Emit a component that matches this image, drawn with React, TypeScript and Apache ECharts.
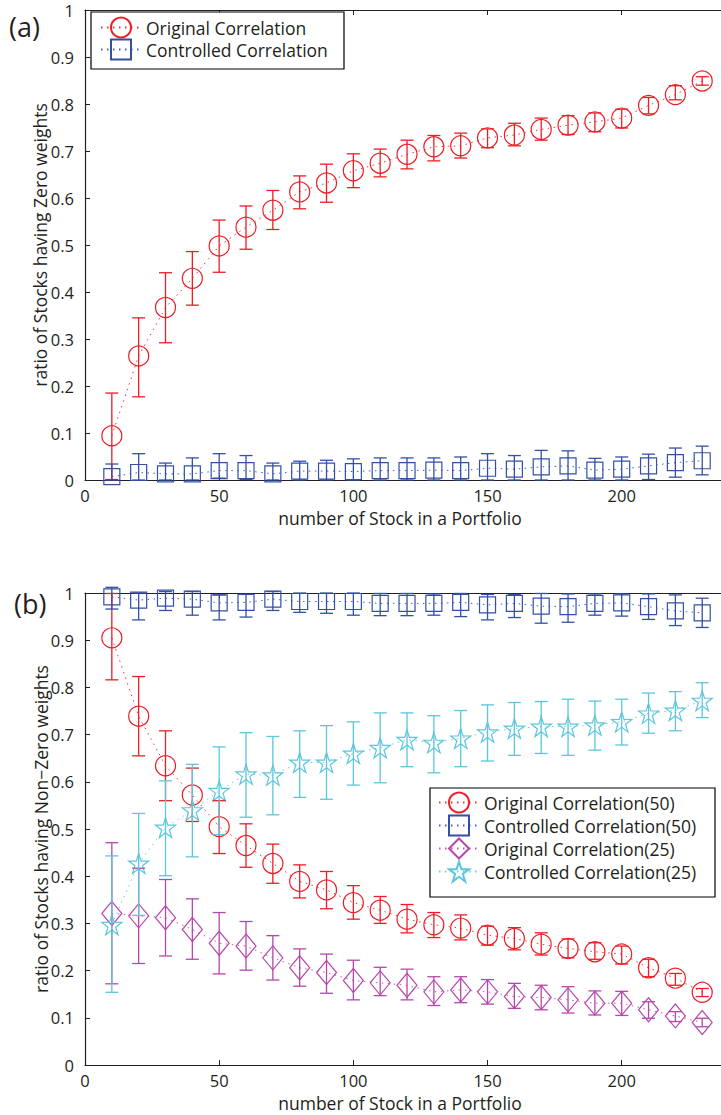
import React, { useEffect, useRef } from "react";
import * as echarts from "echarts";

// ---- data ----
const xs = [10, 20, 30, 40, 50, 60, 70, 80, 90, 100, 110, 120, 130, 140, 150, 160, 170, 180, 190, 200, 210, 220, 230];
const xTicks = [0, 50, 100, 150, 200];

// panel (a)
const aOrigMean = [0.094, 0.264, 0.367, 0.429, 0.498, 0.538, 0.574, 0.613, 0.632, 0.658, 0.674, 0.693, 0.709, 0.711, 0.728, 0.734, 0.746, 0.755, 0.762, 0.77, 0.797, 0.82, 0.849];
const aOrigLow = [0.001, 0.177, 0.292, 0.372, 0.442, 0.491, 0.533, 0.577, 0.591, 0.622, 0.645, 0.662, 0.679, 0.685, 0.707, 0.711, 0.723, 0.735, 0.741, 0.749, 0.779, 0.809, 0.84];
const aOrigHigh = [0.185, 0.345, 0.441, 0.486, 0.553, 0.583, 0.616, 0.647, 0.672, 0.694, 0.704, 0.723, 0.733, 0.738, 0.747, 0.759, 0.77, 0.775, 0.781, 0.789, 0.814, 0.839, 0.858];

const aCtrlMean = [0.007, 0.016, 0.013, 0.013, 0.02, 0.02, 0.013, 0.019, 0.019, 0.018, 0.02, 0.02, 0.021, 0.02, 0.025, 0.023, 0.028, 0.03, 0.021, 0.023, 0.03, 0.037, 0.041];
const aCtrlLow = [0, 0, 0, 0, 0.004, 0.001, 0, 0, 0, 0, 0, 0, 0, 0, 0, 0, 0, 0, 0, 0, 0.001, 0.006, 0.011];
const aCtrlHigh = [0.034, 0.056, 0.036, 0.047, 0.056, 0.052, 0.036, 0.04, 0.042, 0.045, 0.047, 0.047, 0.047, 0.049, 0.056, 0.052, 0.063, 0.062, 0.046, 0.049, 0.055, 0.068, 0.072];

// panel (b)
const bOrig50Mean = [0.905, 0.739, 0.634, 0.572, 0.505, 0.465, 0.427, 0.389, 0.371, 0.344, 0.328, 0.309, 0.297, 0.29, 0.275, 0.268, 0.256, 0.247, 0.24, 0.235, 0.206, 0.184, 0.154];
const bOrig50Low = [0.816, 0.655, 0.56, 0.516, 0.448, 0.419, 0.385, 0.354, 0.331, 0.309, 0.3, 0.28, 0.27, 0.265, 0.254, 0.244, 0.233, 0.227, 0.224, 0.214, 0.187, 0.169, 0.145];
const bOrig50High = [0.999, 0.823, 0.708, 0.629, 0.56, 0.511, 0.468, 0.424, 0.41, 0.38, 0.357, 0.34, 0.323, 0.318, 0.294, 0.291, 0.28, 0.267, 0.259, 0.252, 0.224, 0.194, 0.162];

const bCtrl50Mean = [0.992, 0.985, 0.989, 0.987, 0.979, 0.98, 0.987, 0.982, 0.982, 0.982, 0.978, 0.978, 0.978, 0.98, 0.975, 0.978, 0.972, 0.971, 0.978, 0.979, 0.971, 0.962, 0.958];
const bCtrl50Low = [0.966, 0.943, 0.963, 0.953, 0.943, 0.949, 0.963, 0.959, 0.957, 0.953, 0.952, 0.952, 0.953, 0.95, 0.943, 0.948, 0.936, 0.938, 0.953, 0.951, 0.944, 0.931, 0.927];
const bCtrl50High = [1.012, 1.0, 1.003, 1.003, 0.996, 0.997, 1.003, 1.0, 1.0, 1.0, 0.999, 0.999, 0.998, 0.999, 0.997, 0.997, 0.999, 0.998, 0.998, 0.998, 0.998, 0.996, 0.989];

const bOrig25Mean = [0.321, 0.316, 0.312, 0.287, 0.258, 0.252, 0.227, 0.206, 0.196, 0.179, 0.174, 0.169, 0.155, 0.159, 0.155, 0.145, 0.143, 0.138, 0.131, 0.131, 0.117, 0.104, 0.09];
const bOrig25Low = [0.172, 0.215, 0.231, 0.224, 0.193, 0.201, 0.18, 0.167, 0.152, 0.138, 0.147, 0.138, 0.126, 0.132, 0.129, 0.12, 0.117, 0.11, 0.106, 0.105, 0.099, 0.092, 0.081];
const bOrig25High = [0.471, 0.417, 0.393, 0.352, 0.323, 0.304, 0.274, 0.246, 0.235, 0.222, 0.207, 0.203, 0.187, 0.187, 0.181, 0.173, 0.169, 0.166, 0.157, 0.156, 0.134, 0.113, 0.099];

const bCtrl25Mean = [0.297, 0.427, 0.503, 0.54, 0.581, 0.616, 0.614, 0.641, 0.641, 0.66, 0.672, 0.689, 0.683, 0.692, 0.705, 0.713, 0.717, 0.717, 0.72, 0.727, 0.745, 0.751, 0.772];
const bCtrl25Low = [0.154, 0.317, 0.401, 0.441, 0.488, 0.525, 0.53, 0.567, 0.563, 0.593, 0.598, 0.632, 0.619, 0.632, 0.644, 0.656, 0.66, 0.656, 0.667, 0.678, 0.703, 0.708, 0.736];
const bCtrl25High = [0.443, 0.533, 0.602, 0.637, 0.674, 0.704, 0.696, 0.708, 0.719, 0.727, 0.746, 0.746, 0.74, 0.751, 0.763, 0.768, 0.77, 0.775, 0.771, 0.775, 0.788, 0.791, 0.81];

const X_NAME = "number of Stock in a Portfolio";
const Y_NAME_A = "ratio of Stocks having Zero weights";
const Y_NAME_B = "ratio of Stocks having Non\u2212Zero weights";

const STAR = "path://M0,-10 L2.245,-3.09 L9.51,-3.09 L3.633,1.18 L5.878,8.09 L0,3.82 L-5.878,8.09 L-3.633,1.18 L-9.51,-3.09 L-2.245,-3.09 Z";

const RED = "#ee1c25";
const BLUE = "#3350a6";
const PURPLE = "#b746ab";
const CYAN = "#5cc6dc";
const INK = "#231f20";
const FONT = "'Open Sans', 'Noto Sans', sans-serif";
const FS = 17.5;
const TFS = 16.5;

function lineSeries(name: string, gi: number, mean: number[], color: string, symbol: string, size: any) {
  return {
    type: "line",
    name,
    xAxisIndex: gi * 2,
    yAxisIndex: gi,
    data: xs.map((x, i) => [x, mean[i]]),
    symbol,
    symbolSize: size,
    showAllSymbol: true,
    clip: false,
    z: 2,
    itemStyle: { color: "rgba(255,255,255,0)", borderColor: color, borderWidth: 1.2 },
    lineStyle: { color, width: 1, type: [1.5, 4.5], opacity: 0.9 },
    emphasis: { disabled: true },
  };
}

function errSeries(gi: number, low: number[], high: number[], color: string) {
  return {
    type: "custom",
    xAxisIndex: gi * 2,
    yAxisIndex: gi,
    z: 3,
    clip: false,
    silent: true,
    data: xs.map((x, i) => [x, low[i], high[i]]),
    encode: { x: 0, y: [1, 2] },
    renderItem: (_p: any, api: any) => {
      const x = api.value(0);
      const lo = api.coord([x, api.value(1)]);
      const hi = api.coord([x, api.value(2)]);
      const w = 6.5;
      const style = { stroke: color, lineWidth: 1.3, fill: "none" };
      return {
        type: "group",
        children: [
          { type: "line", shape: { x1: lo[0], y1: lo[1], x2: hi[0], y2: hi[1] }, style },
          { type: "line", shape: { x1: lo[0] - w, y1: lo[1], x2: lo[0] + w, y2: lo[1] }, style },
          { type: "line", shape: { x1: hi[0] - w, y1: hi[1], x2: hi[0] + w, y2: hi[1] }, style },
        ],
      };
    },
  };
}

function bottomAxis(gi: number) {
  return {
    type: "value",
    gridIndex: gi,
    position: "bottom",
    min: 0,
    max: 237,
    interval: 50,
    axisLine: { show: true, lineStyle: { color: INK, width: 1.2 } },
    axisTick: { show: true, inside: true, length: 5, lineStyle: { color: INK } },
    axisLabel: {
      show: true,
      margin: 6,
      fontSize: TFS,
      lineHeight: 18,
      color: INK,
      fontFamily: FONT,
      showMaxLabel: false,
      formatter: (v: number) => (xTicks.indexOf(v) >= 0 ? String(v) : ""),
    },
    splitLine: { show: false },
  };
}

function topAxis(gi: number) {
  return {
    type: "value",
    gridIndex: gi,
    position: "top",
    min: 0,
    max: 237,
    interval: 50,
    axisLine: { show: true, onZero: false, lineStyle: { color: INK, width: 1.2 } },
    axisTick: { show: true, inside: true, length: 5, lineStyle: { color: INK } },
    axisLabel: { show: false },
    splitLine: { show: false },
  };
}

function yAxis(gi: number) {
  return {
    type: "value",
    gridIndex: gi,
    min: 0,
    max: 1,
    interval: 0.1,
    axisLine: { show: true, lineStyle: { color: INK, width: 1.2 } },
    axisTick: { show: true, inside: true, length: 5, lineStyle: { color: INK } },
    axisLabel: { margin: 11, fontSize: TFS, lineHeight: 18, color: INK, fontFamily: FONT },
    splitLine: { show: false },
  };
}

function nameText(text: string, x: number, y: number, rotate: boolean) {
  return {
    type: "text",
    z: 6,
    x,
    y,
    rotation: rotate ? Math.PI / 2 : 0,
    style: { text, fontSize: FS, fill: INK, fontFamily: FONT, align: "center", verticalAlign: "middle" },
  };
}

const legendBase = {
  orient: "vertical",
  itemWidth: 40,
  itemHeight: 25,
  padding: 0,
  selectedMode: false,
  z: 10,
  textStyle: { fontSize: FS, color: INK, fontFamily: FONT },
};

export default function App() {
  const ref = useRef<HTMLDivElement>(null);
  useEffect(() => {
    document.body.style.margin = "0";
    const chart = echarts.init(ref.current!, undefined, { renderer: "svg" });
    const option: any = {
      animation: false,
      backgroundColor: "#ffffff",
      textStyle: { fontFamily: FONT },
      grid: [
        { left: 85, top: 10, width: 636, height: 470 },
        { left: 85, top: 593, width: 636, height: 472 },
      ],
      xAxis: [bottomAxis(0), topAxis(0), bottomAxis(1), topAxis(1)],
      yAxis: [yAxis(0), yAxis(1)],
      legend: [
        { ...legendBase, left: 100, top: 16.5, itemGap: 0, data: ["Original Correlation", "Controlled Correlation"] },
        {
          ...legendBase,
          left: 438,
          top: 791.5,
          itemGap: 1,
          data: [
            "Original Correlation(50)",
            "Controlled Correlation(50)",
            "Original Correlation(25)",
            "Controlled Correlation(25)",
          ],
        },
      ],
      graphic: [
        { type: "rect", z: 5, shape: { x: 91, y: 12, width: 253, height: 57 }, style: { fill: "#fff", stroke: "#000", lineWidth: 1.2 } },
        { type: "rect", z: 5, shape: { x: 430, y: 788, width: 285, height: 109 }, style: { fill: "#fff", stroke: "#000", lineWidth: 1.2 } },
        { type: "text", z: 6, x: 9, y: 26, style: { text: "(a)", fontSize: 27, fill: INK, fontFamily: FONT, verticalAlign: "middle" } },
        { type: "text", z: 6, x: 14, y: 603, style: { text: "(b)", fontSize: 27, fill: INK, fontFamily: FONT, verticalAlign: "middle" } },
        nameText(X_NAME, 400, 518, false),
        nameText(X_NAME, 400, 1103, false),
        nameText(Y_NAME_A, 40, 245, true),
        nameText(Y_NAME_B, 41, 829, true),
      ],
      series: [
        lineSeries("Original Correlation", 0, aOrigMean, RED, "circle", 20),
        errSeries(0, aOrigLow, aOrigHigh, RED),
        lineSeries("Controlled Correlation", 0, aCtrlMean, BLUE, "rect", 16),
        errSeries(0, aCtrlLow, aCtrlHigh, BLUE),

        lineSeries("Original Correlation(50)", 1, bOrig50Mean, RED, "circle", 20),
        errSeries(1, bOrig50Low, bOrig50High, RED),
        lineSeries("Controlled Correlation(50)", 1, bCtrl50Mean, BLUE, "rect", 16),
        errSeries(1, bCtrl50Low, bCtrl50High, BLUE),
        lineSeries("Original Correlation(25)", 1, bOrig25Mean, PURPLE, "diamond", [20, 24]),
        errSeries(1, bOrig25Low, bOrig25High, PURPLE),
        lineSeries("Controlled Correlation(25)", 1, bCtrl25Mean, CYAN, STAR, 20),
        errSeries(1, bCtrl25Low, bCtrl25High, CYAN),
      ],
    };
    chart.setOption(option);
    return () => chart.dispose();
  }, []);
  return <div ref={ref} style={{ width: 721, height: 1115 }} />;
}
